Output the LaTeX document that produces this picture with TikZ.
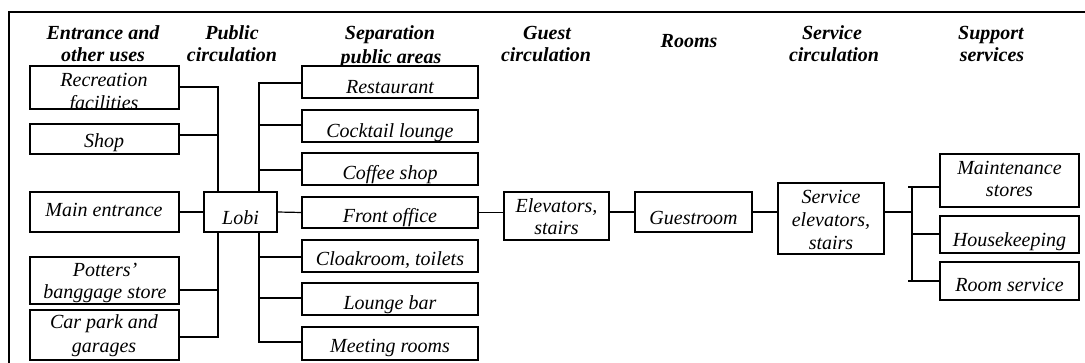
\documentclass[tikz,border=0pt]{standalone}
\usepackage{fontspec}
\setmainfont{Liberation Serif}
\newcommand\bx[5]{\node[box,minimum width={(#4)-(#2)},minimum height={(#5)-(#3)}] (#1) at ({((#2)+(#4))/2},{((#3)+(#5))/2}) {};}
\begin{document}
\begin{tikzpicture}[x=1pt,y=-1pt,
  box/.style={draw,fill=white,line width=1.3pt,inner sep=0pt,outer sep=0pt},
  tx/.style={anchor=base,inner sep=0pt,font=\fontsize{20}{23}\selectfont\itshape},
  hd/.style={anchor=base,inner sep=0pt,font=\fontsize{20}{23}\selectfont\bfseries\itshape},
  ln/.style={line width=1.2pt}]
\useasboundingbox (0,0) rectangle (1085,363);
% frame
\coordinate (fTR) at (1085,12);
\coordinate (fTL) at (9,12);
\coordinate (fBL) at (9,363);
\draw[ln] (fTR) -- (fTL) -- (fBL);
% headers
\node[hd] (h1a) at (103,40) {Entrance and};
\node[hd] (h1b) at (103,62) {other uses};
\node[hd] (h2a) at (232,40) {Public};
\node[hd] (h2b) at (232,62) {circulation};
\node[hd] (h3a) at (390,40) {Separation};
\node[hd] (h3b) at (391,63.5) {public areas};
\node[hd] (h4a) at (547,40) {Guest};
\node[hd] (h4b) at (546,62) {circulation};
\node[hd] (h5) at (689,48) {Rooms};
\node[hd] (h6a) at (832,40) {Service};
\node[hd] (h6b) at (834,62) {circulation};
\node[hd] (h7a) at (991,40) {Support};
\node[hd] (h7b) at (992,62) {services};
% column 1
\bx{rec}{30}{66}{179}{109}
\bx{shop}{30}{124}{179}{154}
\bx{main}{30}{192}{179}{232}
\bx{pot}{30}{257}{179}{304}
\bx{car}{30}{310}{179}{360}
% lobby
\bx{lobi}{204}{192}{277}{232}
% column 3
\bx{rest}{302}{66}{478}{98}
\bx{cock}{302}{110}{478}{142}
\bx{coff}{302}{153}{478}{185}
\bx{front}{302}{197}{478}{228}
\bx{cloak}{302}{240}{478}{272}
\bx{lounge}{302}{283}{478}{315}
\bx{meet}{302}{327}{478}{360}
% others
\bx{elev}{504}{192}{609}{240}
\bx{guest}{635}{192}{752}{232}
\bx{serv}{778}{183}{884}{254}
\bx{maint}{940}{154}{1079}{207}
\bx{house}{940}{216}{1079}{253}
\bx{roomsv}{940}{262}{1079}{300}
% texts
\begin{scope}
\clip (30.7,66.7) rectangle (178.3,108.3);
\node[tx] (t1a) at (104,87) {Recreation};
\node[tx] (t1b) at (104,110) {facilities};
\end{scope}
\node[tx] (t2) at (104,148) {Shop};
\node[tx] (t3) at (104,217) {Main entrance};
\node[tx] (t4a) at (105,277) {Potters’};
\node[tx] (t4b) at (105,299) {banggage store};
\node[tx] (t5a) at (104,329) {Car park and};
\node[tx] (t5b) at (104,353) {garages};
\node[tx] (tl) at (240.5,225) {Lobi};
\node[tx] (t6) at (390,94) {Restaurant};
\node[tx] (t7) at (390,138) {Cocktail lounge};
\node[tx] (t8) at (390,180) {Coffee shop};
\node[tx] (t9) at (390,223) {Front office};
\node[tx] (t10) at (390,266) {Cloakroom, toilets};
\node[tx] (t11) at (390,310) {Lounge bar};
\node[tx] (t12) at (390,353) {Meeting rooms};
\node[tx] (t13a) at (556.5,213) {Elevators,};
\node[tx] (t13b) at (556.5,235) {stairs};
\node[tx] (t14) at (693.5,224.5) {Guestroom};
\node[tx] (t15a) at (831,204) {Service};
\node[tx] (t15b) at (831,227) {elevators,};
\node[tx] (t15c) at (831,250) {stairs};
\node[tx] (t16a) at (1009.5,175) {Maintenance};
\node[tx] (t16b) at (1009.5,197) {stores};
\node[tx] (t17) at (1009.5,247) {Housekeeping};
\node[tx] (t18) at (1009.5,292) {Room service};
% left bus
\coordinate (L1) at (218,87);
\coordinate (L2) at (218,135);
\coordinate (L3) at (218,290);
\coordinate (L4) at (218,337);
\draw[ln] (rec.east |- L1) -- (L1) -- (L1 |- lobi.north);
\draw[ln] (shop.east |- L2) -- (L2);
\draw[ln] (L1 |- lobi.south) -- (L4) -- (car.east |- L4);
\draw[ln] (pot.east |- L3) -- (L3);
\draw[ln] (main.east) -- (lobi.west);
% right bus
\coordinate (R1) at (259,83);
\coordinate (R2) at (259,125);
\coordinate (R3) at (259,170);
\coordinate (R5) at (259,257);
\coordinate (R6) at (259,298);
\coordinate (R7) at (259,342);
\draw[ln] (rest.west |- R1) -- (R1) -- (R1 |- lobi.north);
\draw[ln] (cock.west |- R2) -- (R2);
\draw[ln] (coff.west |- R3) -- (R3);
\draw[ln] (R1 |- lobi.south) -- (R7) -- (meet.west |- R7);
\draw[ln] (cloak.west |- R5) -- (R5);
\draw[ln] (lounge.west |- R6) -- (R6);
\draw[ln] (lobi.east) -- (front.west);
% chain
\draw[ln] (front.east) -- (front.east -| elev.west);
\draw[ln] (guest.west) -- (guest.west -| elev.east);
\draw[ln] (guest.east) -- (guest.east -| serv.west);
% support bus
\coordinate (S0) at (912,212);
\coordinate (S1) at (912,187);
\coordinate (S2) at (912,234);
\coordinate (S3) at (912,281);
\coordinate (S1t) at (908,187);
\coordinate (S3t) at (908,281);
\draw[ln] (serv.east |- S0) -- (S0);
\draw[ln] (S1) -- (S3);
\draw[ln] (S1t) -- (maint.west |- S1);
\draw[ln] (S2) -- (house.west |- S2);
\draw[ln] (S3t) -- (roomsv.west |- S3);
\end{tikzpicture}
\end{document}
